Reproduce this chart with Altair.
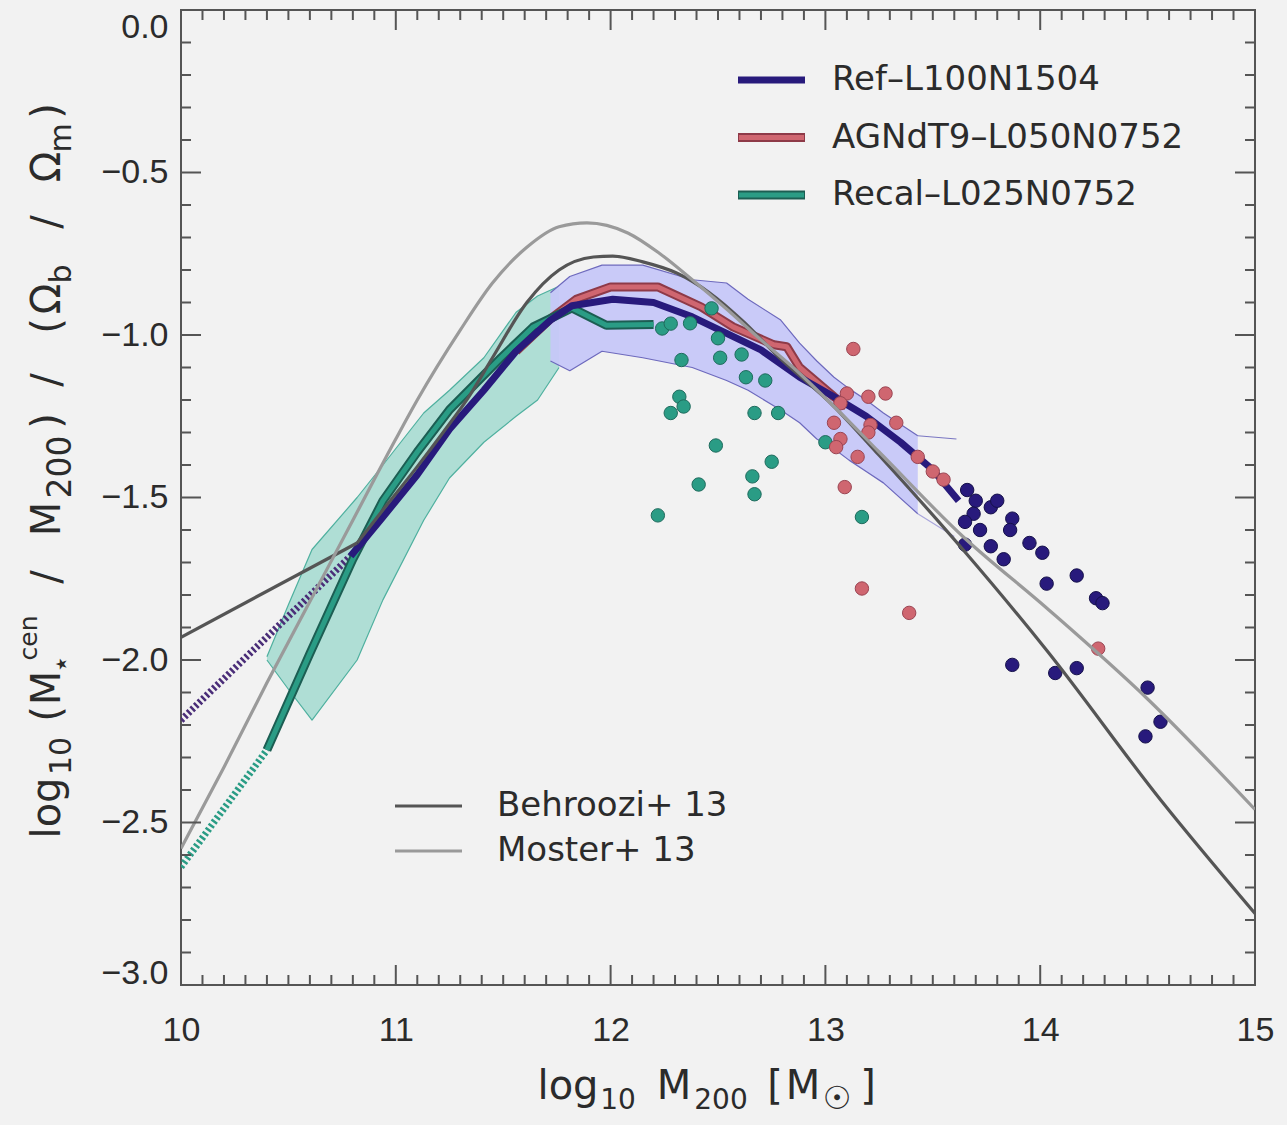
import altair as alt
import pandas as pd

# ---------------- data ----------------
# Behroozi+13 (dark grey): straight low-mass part, then smooth part
beh_lo_x = [10.0, 10.82]
beh_lo_y = [-1.93, -1.64]
beh_x = [10.82, 10.95, 11.10, 11.22, 11.345, 11.45, 11.61, 11.76, 11.92, 12.01,
         12.15, 12.31, 12.46, 12.62, 12.77, 13.04, 13.25, 13.64, 14.03, 14.56, 15.0]
beh_y = [-1.64, -1.53, -1.405, -1.30, -1.185, -1.07, -0.90, -0.80, -0.76, -0.757,
         -0.775, -0.81, -0.87, -0.96, -1.06, -1.22, -1.37, -1.66, -1.97, -2.43, -2.78]
# Moster+13 (light grey)
mos_x = [10.0, 10.2, 10.4, 10.6, 10.8, 11.0, 11.1, 11.3, 11.45, 11.61, 11.76, 11.89, 12.08, 12.23,
         12.38, 12.54, 12.70, 12.85, 13.04, 13.25, 13.64, 14.03, 14.50, 15.0]
mos_y = [-2.58, -2.33, -2.07, -1.82, -1.57, -1.32, -1.20, -0.985, -0.84, -0.73, -0.667, -0.655, -0.686,
         -0.75, -0.83, -0.92, -1.015, -1.10, -1.22, -1.36, -1.62, -1.84, -2.12, -2.46]

# Ref-L100N1504 median (navy)
ref_x = [10.79, 10.94, 11.10, 11.25, 11.41, 11.56, 11.72, 11.82, 12.01, 12.20, 12.38, 12.54, 12.70,
         12.88, 13.04, 13.19, 13.35, 13.50, 13.62]
ref_y = [-1.68, -1.56, -1.43, -1.29, -1.17, -1.05, -0.954, -0.91, -0.89, -0.90, -0.944, -0.995, -1.046,
         -1.13, -1.19, -1.25, -1.33, -1.415, -1.51]
ref_dot_x = [10.0, 10.79]
ref_dot_y = [-2.185, -1.68]

# AGNdT9-L050N0752 median (red)
agn_x = [11.56, 11.72, 11.84, 12.00, 12.22, 12.42, 12.57, 12.76, 12.82, 12.88, 13.04, 13.10]
agn_y = [-1.05, -0.95, -0.89, -0.852, -0.852, -0.913, -0.975, -1.03, -1.036, -1.10, -1.19, -1.22]

# Recal-L025N0752 median (teal)
rec_x = [10.40, 10.60, 10.80, 10.94, 11.10, 11.25, 11.49, 11.64, 11.82, 11.98, 12.20]
rec_y = [-2.277, -1.98, -1.69, -1.51, -1.36, -1.23, -1.07, -0.975, -0.917, -0.97, -0.968]
rec_dot_x = [10.0, 10.40]
rec_dot_y = [-2.637, -2.277]

# Recal scatter band (teal)
tb_x = [10.40, 10.50, 10.61, 10.82, 10.94, 11.13, 11.25, 11.41, 11.56, 11.66, 11.76]
tb_hi = [-1.99, -1.83, -1.66, -1.50, -1.40, -1.24, -1.17, -1.07, -0.93, -0.88, -0.85]
tb_lo = [-2.00, -2.09, -2.185, -2.00, -1.815, -1.57, -1.44, -1.33, -1.25, -1.20, -1.10]

# Ref scatter band (lavender)
pb_x = [11.72, 11.81, 11.96, 12.15, 12.38, 12.54, 12.64, 12.79, 12.88, 12.96, 13.04, 13.11, 13.19, 13.27, 13.43]
pb_hi = [-0.87, -0.82, -0.785, -0.785, -0.83, -0.84, -0.89, -0.953, -1.025, -1.08, -1.13, -1.165, -1.20, -1.24, -1.31]
pb_lo = [-1.08, -1.11, -1.05, -1.07, -1.10, -1.14, -1.17, -1.23, -1.27, -1.32, -1.35, -1.385, -1.42, -1.455, -1.55]
pb_hi_ext_x = [13.43, 13.61]
pb_hi_ext_y = [-1.31, -1.32]
pb_lo_ext_x = [13.43, 13.60]
pb_lo_ext_y = [-1.55, -1.62]

# individual haloes
rec_pts_x = [12.24, 12.28, 12.37, 12.47, 12.50, 12.33, 12.51, 12.61, 12.63, 12.72, 12.32, 12.34,
             12.28, 12.67, 12.78, 13.00, 12.49, 12.75, 12.66, 12.67, 12.41, 12.22, 13.17]
rec_pts_y = [-0.98, -0.965, -0.964, -0.918, -1.01, -1.077, -1.07, -1.06, -1.13, -1.14, -1.19, -1.22,
             -1.24, -1.24, -1.24, -1.33, -1.34, -1.39, -1.435, -1.49, -1.46, -1.555, -1.56]
agn_pts_x = [13.13, 13.10, 13.07, 13.20, 13.28, 13.04, 13.21, 13.20, 13.33, 13.07, 13.05, 13.15,
             13.43, 13.50, 13.55, 13.09, 13.17, 13.39, 14.27]
agn_pts_y = [-1.043, -1.18, -1.21, -1.19, -1.18, -1.27, -1.277, -1.30, -1.27, -1.32, -1.345, -1.375,
             -1.375, -1.42, -1.445, -1.468, -1.78, -1.855, -1.965]
ref_pts_x = [13.66, 13.70, 13.69, 13.65, 13.77, 13.80, 13.87, 13.86, 13.72, 13.65, 13.77, 13.83,
             13.95, 14.01, 14.03, 14.17, 14.26, 14.29, 13.87, 14.07, 14.17, 14.50, 14.56, 14.49]
ref_pts_y = [-1.477, -1.51, -1.55, -1.575, -1.53, -1.51, -1.565, -1.60, -1.60, -1.645, -1.65, -1.69,
             -1.64, -1.67, -1.765, -1.74, -1.81, -1.825, -2.015, -2.04, -2.025, -2.085, -2.19, -2.235]

x_tick_labels = [10, 11, 12, 13, 14, 15]
y_tick_labels = [0.0, -0.5, -1.0, -1.5, -2.0, -2.5, -3.0]
sim_names = ["Ref\u2013L100N1504", "AGNdT9\u2013L050N0752", "Recal\u2013L025N0752"]
obs_names = ["Behroozi+\u00a013", "Moster+\u00a013"]

# axis titles as pieces: (text, centre position along axis in page px, role)
ytitle_pieces = [("log", 808, "main"), ("10", 756, "sub"), ("(", 714, "main"), ("M", 688, "main"),
                 ("\u22c6", 664, "sub"), ("cen", 638, "sup"), ("/", 577, "main"), ("M", 519, "main"),
                 ("200", 467, "subL"), (")", 421, "main"), ("/", 380, "main"), ("(", 326, "main"),
                 ("\u03a9", 299, "main"), ("b", 274, "sub"), ("/", 222, "main"), ("\u03a9", 167, "main"),
                 ("m", 138, "sub"), (")", 111, "main")]
xtitle_pieces = [("log", 568, "main"), ("10", 618, "sub"), ("M", 674, "main"), ("200", 721, "sub"),
                 ("[", 775, "main"), ("M", 803, "main"), ("\u2609", 837, "subL"), ("]", 868, "main")]

# ---------------- styling ----------------
W, H = 1074, 975
L, T = 181, 10
FONT = "Liberation Sans"
TFONT = "DejaVu Sans"
TXT = "#2b2b2b"
FRAME = "#555555"
NAVY = "#281a7c"
NAVY_DOT = "#4a2d78"
RED = "#cf6670"
RED_D = "#8e3a48"
TEAL = "#2a9c85"
TEAL_D = "#1c5e53"
BEH = "#555555"
MOS = "#9a9a9a"

XS = alt.Scale(domain=[10, 15], nice=False, zero=False)
YS = alt.Scale(domain=[-3, 0], nice=False, zero=False)

XAX = alt.Axis(values=x_tick_labels, format="d", ticks=False, domain=False, grid=False,
               labelFont=FONT, labelFontSize=34, labelColor=TXT, labelPadding=28,
               labelFlush=False, labelOverlap=False, labelBound=False, title=None)
YAX = alt.Axis(values=y_tick_labels, format=".1f", ticks=False, domain=False, grid=False,
               labelFont=FONT, labelFontSize=34, labelColor=TXT, labelPadding=13,
               labelFlush=False, labelOverlap=False, labelBound=False, title=None,
               labelBaseline={"condition": {"test": "datum.value == 0", "value": "top"}, "value": "middle"},
               labelOffset={"condition": {"test": "datum.value == -3", "value": -12}, "value": 0})


def enc(df):
    return alt.Chart(df).encode(x=alt.X("x:Q", scale=XS, axis=XAX),
                                y=alt.Y("y:Q", scale=YS, axis=YAX))


def line(xs, ys, color, width, dash=None, interp="linear", opacity=1.0):
    kw = dict(color=color, strokeWidth=width, interpolate=interp, strokeCap="butt",
              strokeJoin="round", opacity=opacity, clip=True)
    if dash:
        kw["strokeDash"] = dash
    return enc(pd.DataFrame({"x": xs, "y": ys})).mark_line(**kw)


def band(xs, hi, lo, fill, opacity):
    df = pd.DataFrame({"x": xs, "y": hi, "y2": lo})
    return alt.Chart(df).mark_area(color=fill, opacity=opacity, interpolate="linear").encode(
        x=alt.X("x:Q", scale=XS, axis=XAX), y=alt.Y("y:Q", scale=YS, axis=YAX), y2="y2:Q")


def points(xs, ys, fill, stroke):
    return enc(pd.DataFrame({"x": xs, "y": ys})).mark_circle(
        size=180, color=fill, stroke=stroke, strokeWidth=1, opacity=1)


layers = []
# bands
layers.append(band(tb_x, tb_hi, tb_lo, "#a7dcd2", 0.9))
layers.append(line(tb_x, tb_hi, "#4fb09f", 1.2))
layers.append(line(tb_x, tb_lo, "#4fb09f", 1.2))
layers.append(band(pb_x, pb_hi, pb_lo, "#c6c7f8", 0.95))
layers.append(line(pb_x, pb_hi, "#6d69bd", 1.2))
layers.append(line(pb_x, pb_lo, "#6d69bd", 1.2))
layers.append(line(pb_hi_ext_x, pb_hi_ext_y, "#7a76c2", 1.2))
layers.append(line(pb_lo_ext_x, pb_lo_ext_y, "#a9a6dc", 1.2))

# simulation medians
layers.append(line(rec_dot_x, rec_dot_y, TEAL, 7, dash=[2.5, 2.5]))
layers.append(line(ref_dot_x, ref_dot_y, NAVY_DOT, 7, dash=[2.5, 2.5]))
layers.append(line(agn_x, agn_y, RED_D, 9))
layers.append(line(agn_x, agn_y, RED, 5))
layers.append(line(rec_x, rec_y, TEAL_D, 9))
layers.append(line(rec_x, rec_y, TEAL, 5))
layers.append(line(ref_x, ref_y, NAVY, 7))

# individual haloes
layers.append(points(rec_pts_x, rec_pts_y, TEAL, "#1f6b5d"))
layers.append(points(agn_pts_x, agn_pts_y, RED, "#9a4452"))
layers.append(points(ref_pts_x, ref_pts_y, NAVY, "#15104a"))

# abundance matching relations
layers.append(line(beh_lo_x, beh_lo_y, BEH, 3.2))
layers.append(line(beh_x, beh_y, BEH, 3.2, interp="monotone"))
layers.append(line(mos_x, mos_y, MOS, 3.2, interp="monotone"))

# inward frame ticks
x_major = x_tick_labels
x_minor = [round(10 + i / 10, 1) for i in range(1, 50) if i % 10 != 0]
y_major = [round(-i * 0.5, 1) for i in range(0, 7)]
y_minor = [round(-i / 10, 1) for i in range(1, 30) if i % 5 != 0]


def xticks(vals, y0, y1):
    return alt.Chart(pd.DataFrame({"v": vals})).mark_rule(color=FRAME, strokeWidth=2).encode(
        x=alt.X("v:Q", scale=XS, axis=XAX), y=alt.value(y0), y2=alt.value(y1))


def yticks(vals, x0, x1):
    return alt.Chart(pd.DataFrame({"v": vals})).mark_rule(color=FRAME, strokeWidth=2).encode(
        y=alt.Y("v:Q", scale=YS, axis=YAX), x=alt.value(x0), x2=alt.value(x1))


layers += [xticks(x_major, H, H - 20), xticks(x_minor, H, H - 10),
           xticks(x_major, 0, 20), xticks(x_minor, 0, 10),
           yticks(y_major, 0, 20), yticks(y_minor, 0, 10),
           yticks(y_major, W, W - 20), yticks(y_minor, W, W - 10)]

# axis titles (pieces so that sub/superscripts sit like in the original)
YBASE = {"main": (60, 40), "sub": (71, 30), "subL": (71, 33), "sup": (37, 25)}
for txt, pos, role in ytitle_pieces:
    bx, fs = YBASE[role]
    layers.append(alt.Chart().mark_text(font=TFONT, fontSize=fs, color=TXT, angle=270,
                                        align="center", baseline="alphabetic").encode(
        x=alt.value(bx - L), y=alt.value(pos - T), text=alt.value(txt)))
XBASE = {"main": (1099, 40), "sub": (1109, 28), "subL": (1109, 32)}
for txt, pos, role in xtitle_pieces:
    by, fs = XBASE[role]
    layers.append(alt.Chart().mark_text(font=TFONT, fontSize=fs, color=TXT,
                                        align="center", baseline="alphabetic").encode(
        x=alt.value(pos - L), y=alt.value(by - T), text=alt.value(txt)))

# legends (top right: simulations)
sim_styles = [(NAVY, None), (RED, RED_D), (TEAL, TEAL_D)]
for i, (name, (col, outline)) in enumerate(zip(sim_names, sim_styles)):
    yy = 70 + i * 57.5
    if outline:
        layers.append(alt.Chart().mark_rule(color=outline, strokeWidth=9).encode(
            x=alt.value(557), x2=alt.value(624), y=alt.value(yy)))
        layers.append(alt.Chart().mark_rule(color=col, strokeWidth=5).encode(
            x=alt.value(558), x2=alt.value(623), y=alt.value(yy)))
    else:
        layers.append(alt.Chart().mark_rule(color=col, strokeWidth=7).encode(
            x=alt.value(557), x2=alt.value(624), y=alt.value(yy)))
    layers.append(alt.Chart().mark_text(font=TFONT, fontSize=34, color=TXT, align="left",
                                        baseline="middle").encode(
        x=alt.value(651), y=alt.value(yy), text=alt.value(name)))

# legends (bottom left: observations)
for i, (name, col) in enumerate(zip(obs_names, [BEH, MOS])):
    yy = 796 + i * 45
    layers.append(alt.Chart().mark_rule(color=col, strokeWidth=3.2).encode(
        x=alt.value(214), x2=alt.value(281), y=alt.value(yy)))
    layers.append(alt.Chart().mark_text(font=TFONT, fontSize=34, color=TXT, align="left",
                                        baseline="middle").encode(
        x=alt.value(316), y=alt.value(yy), text=alt.value(name)))

chart = alt.layer(*layers).properties(
    width=W, height=H,
    autosize=alt.AutoSizeParams(type="none"),
    padding={"left": L, "top": T, "right": 32, "bottom": 140},
    background="#f2f2f2",
).configure_view(stroke=FRAME, strokeWidth=2, fill="#f2f2f2")

chart.save("out.html", embed_options={"renderer": "svg", "actions": False})
